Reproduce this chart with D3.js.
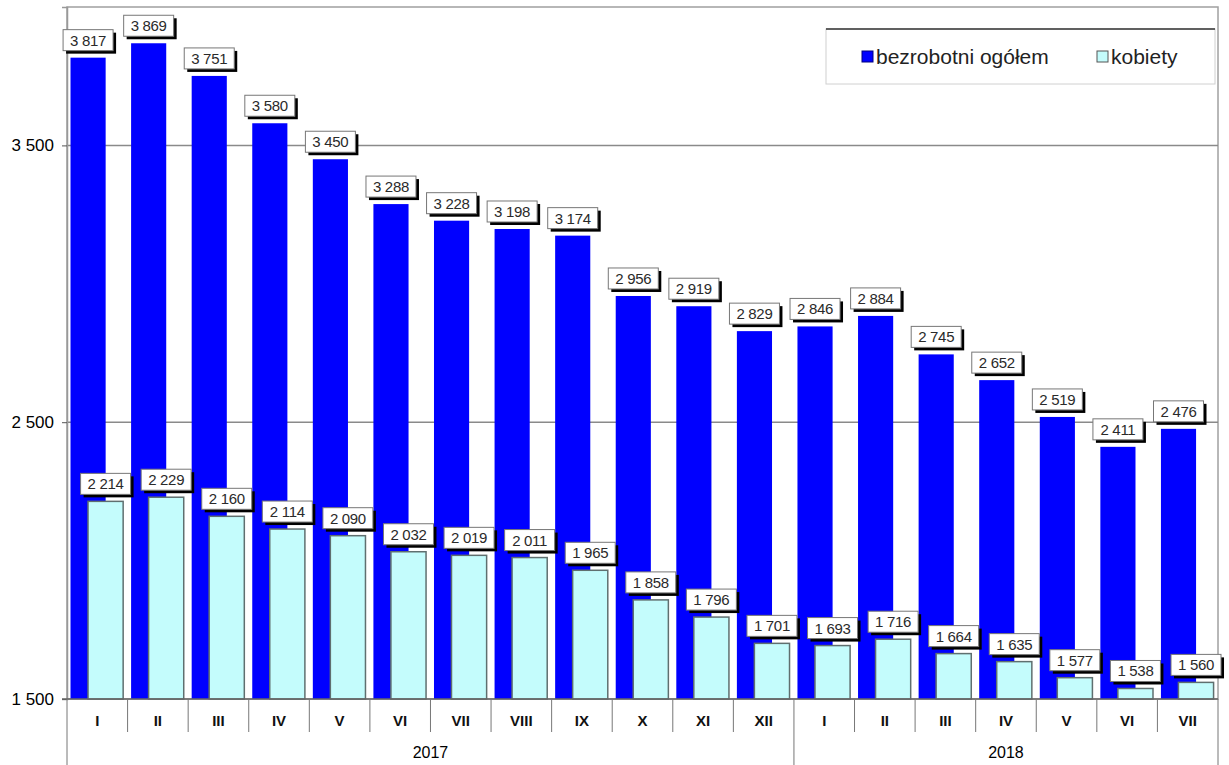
<!DOCTYPE html>
<html>
<head>
<meta charset="utf-8">
<script src="https://cdn.jsdelivr.net/npm/d3@7"></script>
<style>
  html, body { margin: 0; padding: 0; background: #fff; }
  svg { display: block; font-family: Arial, "Liberation Sans", sans-serif; }
</style>
</head>
<body>
<svg id="chart" width="1229" height="765"></svg>
<script>
const months = ["I","II","III","IV","V","VI","VII","VIII","IX","X","XI","XII","I","II","III","IV","V","VI","VII"];
const years = [{label: "2017", from: 0, to: 12}, {label: "2018", from: 12, to: 19}];
const totalUnemployed = [3817, 3869, 3751, 3580, 3450, 3288, 3228, 3198, 3174, 2956, 2919, 2829, 2846, 2884, 2745, 2652, 2519, 2411, 2476];
const women = [2214, 2229, 2160, 2114, 2090, 2032, 2019, 2011, 1965, 1858, 1796, 1701, 1693, 1716, 1664, 1635, 1577, 1538, 1560];
const yTicks = [1500, 2500, 3500];
const seriesNames = ["bezrobotni ogółem", "kobiety"];

const svg = d3.select("#chart");
const pLeft = 67, pRight = 1218, pTop = 7, pBottom = 699;

const idx = d3.range(months.length);
const x = d3.scaleBand().domain(idx).range([pLeft, pRight]).paddingInner(0).paddingOuter(0);
const y = d3.scaleLinear().domain([1500, 4000]).range([pBottom, pTop]);

const bw = x.bandwidth();
const barW = bw * 0.58;
const offBlue = bw * 0.058;
const offCyan = bw * 0.347;

// plot frame
svg.append("rect").attr("x", pLeft).attr("y", pTop).attr("width", pRight - pLeft).attr("height", pBottom - pTop)
  .attr("fill", "#fff").attr("stroke", "#a0a0a0").attr("stroke-width", 1.5);

// gridlines
svg.append("g").selectAll("line").data(yTicks.filter(t => t > 1500)).join("line")
  .attr("x1", pLeft).attr("x2", pRight).attr("y1", d => y(d)).attr("y2", d => y(d))
  .attr("stroke", "#8a8a8a").attr("stroke-width", 1.5);

// y axis
const fmt = v => d3.format(",")(v).replace(/,/g, " ");
const yAxis = svg.append("g").attr("transform", `translate(${pLeft},0)`)
  .call(d3.axisLeft(y).tickValues(yTicks).tickFormat(fmt).tickSize(5).tickPadding(8));
yAxis.select(".domain").attr("stroke", "#999").attr("stroke-width", 1.5);
yAxis.selectAll(".tick line").attr("stroke", "#555");
yAxis.selectAll(".tick text").attr("font-size", 17).attr("fill", "#000").attr("font-family", "Arial, 'Liberation Sans', sans-serif");

// blue bars
svg.append("g").selectAll("rect").data(idx).join("rect")
  .attr("x", i => x(i) + offBlue).attr("width", barW)
  .attr("y", i => y(totalUnemployed[i])).attr("height", i => y(1500) - y(totalUnemployed[i]))
  .attr("fill", "#0000ff");

// cyan bars
svg.append("g").selectAll("rect").data(idx).join("rect")
  .attr("x", i => x(i) + offCyan).attr("width", barW)
  .attr("y", i => y(women[i])).attr("height", i => y(1500) - y(women[i]))
  .attr("fill", "#c4fcfc").attr("stroke", "#5f6f6f").attr("stroke-width", 1.5);

// bottom baseline
svg.append("line").attr("x1", pLeft - 5).attr("x2", pRight).attr("y1", pBottom).attr("y2", pBottom)
  .attr("stroke", "#666").attr("stroke-width", 1.5);

// labels
function addLabels(values, off) {
  const g = svg.append("g");
  idx.forEach(i => {
    const cx = x(i) + off + barW / 2;
    const by = y(values[i]);
    const w = 50, h = 21;
    const bx = cx - w / 2, byTop = by - 7 - h;
    g.append("rect").attr("x", bx + 3).attr("y", byTop + 3).attr("width", w).attr("height", h).attr("fill", "#000");
    g.append("rect").attr("x", bx).attr("y", byTop).attr("width", w).attr("height", h)
      .attr("fill", "#fff").attr("stroke", "#777").attr("stroke-width", 1);
    g.append("text").attr("x", cx).attr("y", byTop + h / 2 + 5.5).attr("text-anchor", "middle")
      .attr("font-size", 15).attr("letter-spacing", -0.3).attr("fill", "#2a2a2a").text(fmt(values[i]));
  });
}
addLabels(totalUnemployed, offBlue);
addLabels(women, offCyan);

// x axis: month labels and separators
const xg = svg.append("g");
xg.selectAll("text").data(idx).join("text")
  .attr("x", i => x(i) + bw / 2).attr("y", 726).attr("text-anchor", "middle")
  .attr("font-size", 15).attr("font-weight", "bold").attr("fill", "#111").text(i => months[i]);
const seps = d3.range(months.length + 1);
xg.selectAll("line").data(seps).join("line")
  .attr("x1", i => i === months.length ? pRight : x(i)).attr("x2", i => i === months.length ? pRight : x(i))
  .attr("y1", pBottom)
  .attr("y2", i => (years.some(yy => yy.from === i) || i === months.length) ? 765 : 732)
  .attr("stroke", "#777").attr("stroke-width", 1);

// year labels
svg.append("g").selectAll("text").data(years).join("text")
  .attr("x", d => ((d.from === 0 ? pLeft : x(d.from)) + (d.to === months.length ? pRight : x(d.to))) / 2)
  .attr("y", 758).attr("text-anchor", "middle").attr("font-size", 16).attr("fill", "#000")
  .text(d => d.label);

// legend
const lg = svg.append("g");
lg.append("rect").attr("x", 826).attr("y", 29).attr("width", 389).attr("height", 55)
  .attr("fill", "#fff").attr("stroke", "#d0d0d0").attr("stroke-width", 1);
lg.append("line").attr("x1", 826).attr("x2", 1215).attr("y1", 29).attr("y2", 29).attr("stroke", "#333").attr("stroke-width", 1.5);
const legendItems = [
  {name: seriesNames[0], fill: "#0000ff", stroke: "#000080", x: 862},
  {name: seriesNames[1], fill: "#c4fcfc", stroke: "#555", x: 1097}
];
legendItems.forEach(it => {
  lg.append("rect").attr("x", it.x).attr("y", 51).attr("width", 11).attr("height", 11)
    .attr("fill", it.fill).attr("stroke", it.stroke).attr("stroke-width", 1);
  lg.append("text").attr("x", it.x + 14).attr("y", 64).attr("font-size", 21).attr("fill", "#222").text(it.name);
});
</script>
</body>
</html>
